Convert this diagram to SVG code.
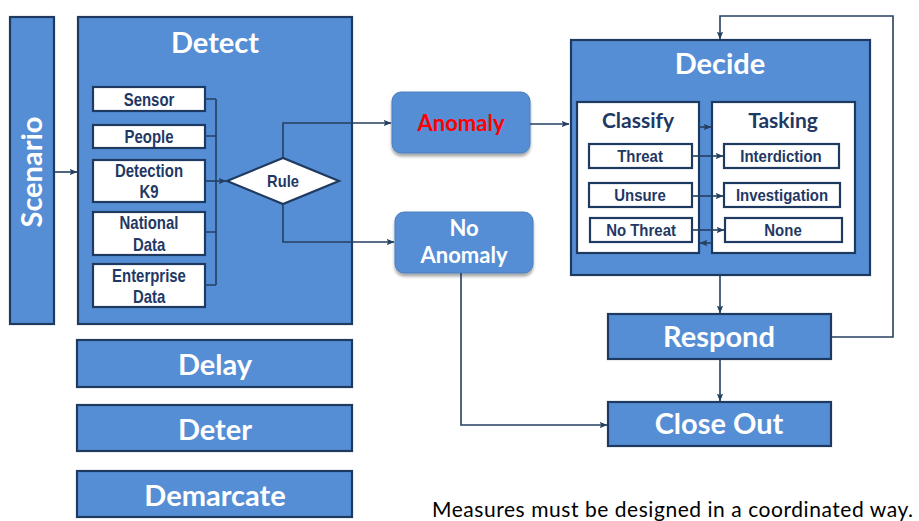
<svg xmlns="http://www.w3.org/2000/svg" width="919" height="521" viewBox="0 0 919 521">
  <defs>
    <marker id="arrow" viewBox="0 0 8 8" refX="7.5" refY="4" markerWidth="8" markerHeight="8" markerUnits="userSpaceOnUse" orient="auto">
      <path d="M0,0.8 L8,4 L0,7.2 L1.8,4 Z" fill="#243f60"/>
    </marker>
    <filter id="shadow" x="-10%" y="-10%" width="130%" height="140%">
      <feGaussianBlur in="SourceAlpha" stdDeviation="1.6"/>
      <feOffset dx="0" dy="2.5"/>
      <feComponentTransfer><feFuncA type="linear" slope="0.35"/></feComponentTransfer>
      <feMerge><feMergeNode/><feMergeNode in="SourceGraphic"/></feMerge>
    </filter>
    <style>
      .panel { fill: #558ed5; stroke: #1f3a60; stroke-width: 2.2; }
      .pill { fill: #558ed5; stroke: #4a7ebb; stroke-width: 1; filter: url(#shadow); }
      .card { fill: #ffffff; stroke: #1f3a60; stroke-width: 2.2; }
      .title { font-family: Lato, "Liberation Sans", sans-serif; font-weight: bold; font-size: 29px; fill: #ffffff; text-anchor: middle; }
      .head { font-family: Lato, "Liberation Sans", sans-serif; font-weight: bold; font-size: 21px; fill: #1f3864; text-anchor: middle; }
      /* narrow bold labels: squeeze each label horizontally about its own centre */
      .lbl, .src, .rule { font-family: "Liberation Sans", Arial, sans-serif; font-weight: bold; fill: #1f3864; text-anchor: middle;
              transform-box: fill-box; transform-origin: center; }
      .src { font-size: 18px; transform: scaleX(0.83); }
      .lbl { font-size: 17px; transform: scaleX(0.88); }
      .rule { font-size: 16.5px; transform: scaleX(0.89); }
      .pilltxt { font-family: Lato, "Liberation Sans", sans-serif; font-weight: bold; font-size: 22px; fill: #ffffff; text-anchor: middle; }
      .wire { fill: none; stroke: #243f60; stroke-width: 1.6; }
      .caption { font-family: Lato, "Liberation Sans", sans-serif; font-size: 21px; fill: #000000; }
    </style>
  </defs>

  <rect width="919" height="521" fill="#ffffff"/>

  <!-- Scenario column -->
  <g id="scenario">
    <rect class="panel" x="10" y="17" width="44" height="307"/>
    <text class="title" transform="translate(42,172) rotate(-90)">Scenario</text>
  </g>

  <!-- Detect panel with sources and rule -->
  <g id="detect">
    <rect class="panel" x="78" y="17" width="274" height="307"/>
    <text class="title" x="215" y="53">Detect</text>
  </g>
  <g id="sensor">
    <rect class="card" x="93" y="87" width="112" height="24"/>
    <text class="src" x="149" y="106">Sensor</text>
  </g>
  <g id="people">
    <rect class="card" x="93" y="125" width="112" height="23"/>
    <text class="src" x="149" y="143">People</text>
  </g>
  <g id="detection-k9">
    <rect class="card" x="93" y="160" width="112" height="42"/>
    <text class="src" x="149" y="177">Detection</text>
    <text class="src" x="149" y="198">K9</text>
  </g>
  <g id="national-data">
    <rect class="card" x="93" y="212" width="112" height="43"/>
    <text class="src" x="149" y="229">National</text>
    <text class="src" x="149" y="251">Data</text>
  </g>
  <g id="enterprise-data">
    <rect class="card" x="93" y="264" width="112" height="43"/>
    <text class="src" x="149" y="282">Enterprise</text>
    <text class="src" x="149" y="303">Data</text>
  </g>
  <g id="rule">
    <polygon class="card" points="227,181 283,158 339,181 283,204"/>
    <text class="rule" x="283" y="187">Rule</text>
  </g>

  <!-- Outcome pills -->
  <g id="anomaly">
    <rect class="pill" x="392" y="92" width="138" height="61" rx="9"/>
    <text class="pilltxt" x="461" y="131" style="fill:#ff0000">Anomaly</text>
  </g>
  <g id="no-anomaly">
    <rect class="pill" x="395" y="212" width="138" height="61" rx="9"/>
    <text class="pilltxt" x="464" y="236">No</text>
    <text class="pilltxt" x="464" y="263">Anomaly</text>
  </g>

  <!-- Decide panel -->
  <g id="decide">
    <rect class="panel" x="571" y="40" width="299" height="235"/>
    <text class="title" x="720" y="74">Decide</text>
  </g>
  <g id="classify">
    <rect class="card" x="577" y="102" width="122" height="151"/>
    <text class="head" x="638" y="128">Classify</text>
  </g>
  <g id="tasking">
    <rect class="card" x="712" y="102" width="143" height="151"/>
    <text class="head" x="783" y="128">Tasking</text>
  </g>
  <g id="threat">
    <rect class="card" x="589" y="144" width="103" height="24"/>
    <text class="lbl" x="640" y="162">Threat</text>
  </g>
  <g id="unsure">
    <rect class="card" x="589" y="183" width="103" height="24"/>
    <text class="lbl" x="640" y="201">Unsure</text>
  </g>
  <g id="no-threat">
    <rect class="card" x="590" y="218" width="102" height="24"/>
    <text class="lbl" x="641" y="236">No Threat</text>
  </g>
  <g id="interdiction">
    <rect class="card" x="724" y="144" width="115" height="24"/>
    <text class="lbl" x="781" y="162">Interdiction</text>
  </g>
  <g id="investigation">
    <rect class="card" x="724" y="183" width="116" height="24"/>
    <text class="lbl" x="782" y="201">Investigation</text>
  </g>
  <g id="none">
    <rect class="card" x="725" y="218" width="117" height="24"/>
    <text class="lbl" x="783" y="236">None</text>
  </g>

  <!-- Response stages -->
  <g id="respond">
    <rect class="panel" x="608" y="314" width="223" height="45"/>
    <text class="title" x="719" y="347">Respond</text>
  </g>
  <g id="close-out">
    <rect class="panel" x="608" y="402" width="223" height="44"/>
    <text class="title" x="719" y="434">Close Out</text>
  </g>

  <!-- Other measures -->
  <g id="delay">
    <rect class="panel" x="77" y="340" width="275" height="47"/>
    <text class="title" x="215" y="375">Delay</text>
  </g>
  <g id="deter">
    <rect class="panel" x="77" y="405" width="275" height="46"/>
    <text class="title" x="215" y="440">Deter</text>
  </g>
  <g id="demarcate">
    <rect class="panel" x="77" y="471" width="275" height="46"/>
    <text class="title" x="215" y="506">Demarcate</text>
  </g>

  <!-- Connectors -->
  <g id="connectors">
    <path class="wire" marker-end="url(#arrow)" d="M54,172 H77"/>
    <path class="wire" d="M205,99 H216 M205,136 H216 M205,232 H216 M205,285 H216 M216,99 V285"/>
    <path class="wire" marker-end="url(#arrow)" d="M205,181 H226"/>
    <path class="wire" marker-end="url(#arrow)" d="M283,158 V123 H391"/>
    <path class="wire" marker-end="url(#arrow)" d="M283,204 V242 H394"/>
    <path class="wire" marker-end="url(#arrow)" d="M530,124 H569"/>
    <path class="wire" marker-end="url(#arrow)" d="M699,127 H711"/>
    <path class="wire" marker-end="url(#arrow)" d="M692,156 H723"/>
    <path class="wire" marker-end="url(#arrow)" d="M692,196 H723"/>
    <path class="wire" marker-end="url(#arrow)" d="M692,230 H724"/>
    <path class="wire" marker-end="url(#arrow)" d="M712,243 H700"/>
    <path class="wire" marker-end="url(#arrow)" d="M720,275 V313"/>
    <path class="wire" marker-end="url(#arrow)" d="M720,359 V401"/>
    <path class="wire" marker-end="url(#arrow)" d="M831,337 H893 V16 H720 V39"/>
    <path class="wire" marker-end="url(#arrow)" d="M461,273 V425 H607"/>
  </g>

  <text class="caption" x="432" y="517" textLength="481">Measures must be designed in a coordinated way.</text>
</svg>
